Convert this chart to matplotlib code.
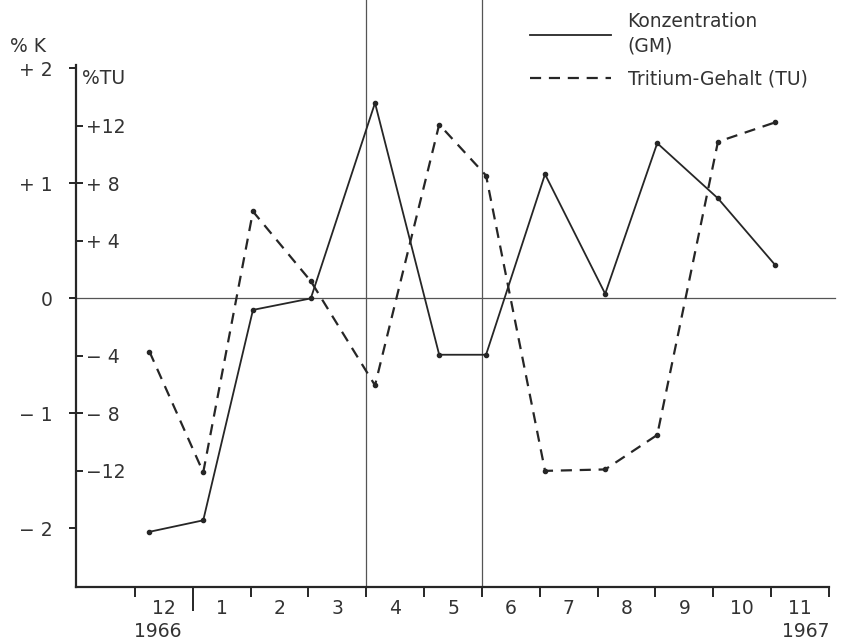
import numpy as np
import matplotlib
matplotlib.use("Agg")
import matplotlib.pyplot as plt
from matplotlib.lines import Line2D

# sampling dates in months after 1 Dec 1966
dates = [0.25, 1.18, 2.04, 3.04, 4.15, 5.26, 6.07, 7.09, 8.13, 9.03, 10.08, 11.07]
konz_k = [-2.03, -1.93, -0.10, 0.0, 1.70, -0.49, -0.49, 1.08, 0.04, 1.35, 0.87, 0.29]
tritium_tu = [-3.7, -12.1, 6.05, 1.2, -6.05, 12.1, 8.55, -12.0, -11.9, -9.5, 10.9, 12.25]

month_labels = ["12", "1", "2", "3", "4", "5", "6", "7", "8", "9", "10", "11"]
k_ticks = [-2, -1, 0, 1, 2]
k_labels = ["\u2212 2", "\u2212 1", "0", "+ 1", "+ 2"]
tu_ticks = [-12, -8, -4, 4, 8, 12]
tu_labels = ["\u221212", "\u2212 8", "\u2212 4", "+ 4", "+ 8", "+12"]
marked_months = [4, 6]

ink = "#262626"
grey = "#555555"
fs = 13.5
plt.rcParams["font.family"] = ["DejaVu Sans"]
plt.rcParams["text.color"] = "#333333"

fig = plt.figure(figsize=(8.67, 6.44), dpi=100)
ax = fig.add_axes([76 / 867, 1 - 587 / 644, (829 - 76) / 867, 522 / 644])
ylo, yhi = -2.51, 2.03
ax.set_xlim(-1.02, 12.0)
ax.set_ylim(ylo, yhi)

for s in ["top", "right"]:
    ax.spines[s].set_visible(False)
for s in ["left", "bottom"]:
    ax.spines[s].set_color(ink)
    ax.spines[s].set_linewidth(1.6)

# reference lines
ax.plot([-1.02, 12.1], [0, 0], color=grey, lw=0.9, clip_on=False, zorder=1)
for m in marked_months:
    ax.axvline(m, ymin=0, ymax=1.13, color=grey, lw=0.9, clip_on=False, zorder=1)

# data
ax.plot(dates, konz_k, color=ink, lw=1.3, marker="o", ms=3, zorder=3)
ax2 = ax.twinx()
ax2.set_ylim(ylo * 8, yhi * 8)
ax2.plot(dates, tritium_tu, color=ink, lw=1.6, ls=(0, (5, 3.5)), marker="o", ms=3, zorder=3)

# K axis
ax.set_yticks(k_ticks)
ax.set_yticklabels(k_labels, fontsize=fs, color="#333333")
ax.tick_params(axis="y", direction="out", length=5, width=1.4, color=ink, pad=12)

# TU axis drawn on the same line, labels to the right
for s in ["top", "left", "bottom", "right"]:
    ax2.spines[s].set_visible(False)
ax2.spines["right"].set_position(("axes", 0))
ax2.set_yticks(tu_ticks)
ax2.set_yticklabels(tu_labels, fontsize=fs, color="#333333")
ax2.tick_params(axis="y", direction="out", length=5, width=1.4, color=ink, pad=2)

# month axis
ax.set_xticks(range(13))
ax.set_xticklabels([])
ax.tick_params(axis="x", which="major", direction="out", length=7, width=1.4, color=ink)
ax.set_xticks(np.arange(12) + 0.5, minor=True)
ax.set_xticklabels(month_labels, minor=True, fontsize=fs, color="#333333")
ax.tick_params(axis="x", which="minor", length=0, pad=9)
ax.xaxis.get_major_ticks()[1].tick1line.set_markersize(17)
ax.text(0.40, -0.086, "1966", transform=ax.get_xaxis_transform(), ha="center", va="center", fontsize=fs)
ax.text(11.6, -0.086, "1967", transform=ax.get_xaxis_transform(), ha="center", va="center", fontsize=fs)

# axis captions
fig.text(10 / 867, 1 - 46 / 644, "% K", fontsize=fs, va="center")
fig.text(82 / 867, 1 - 78 / 644, "%TU", fontsize=fs, va="center")

handles = [Line2D([], [], color=ink, lw=1.3),
           Line2D([], [], color=ink, lw=1.6, ls=(0, (5, 3.5)))]
leg = fig.legend(handles, ["Konzentration\n(GM)", "Tritium-Gehalt (TU)"],
                 loc="upper left", bbox_to_anchor=(530 / 867, 1 - 12 / 644),
                 frameon=False, fontsize=fs, handlelength=4.3, handletextpad=0.9,
                 borderpad=0, borderaxespad=0, labelspacing=0.75)
leg.get_texts()[0].set_linespacing(1.35)

fig.savefig("out.png", dpi=100)
